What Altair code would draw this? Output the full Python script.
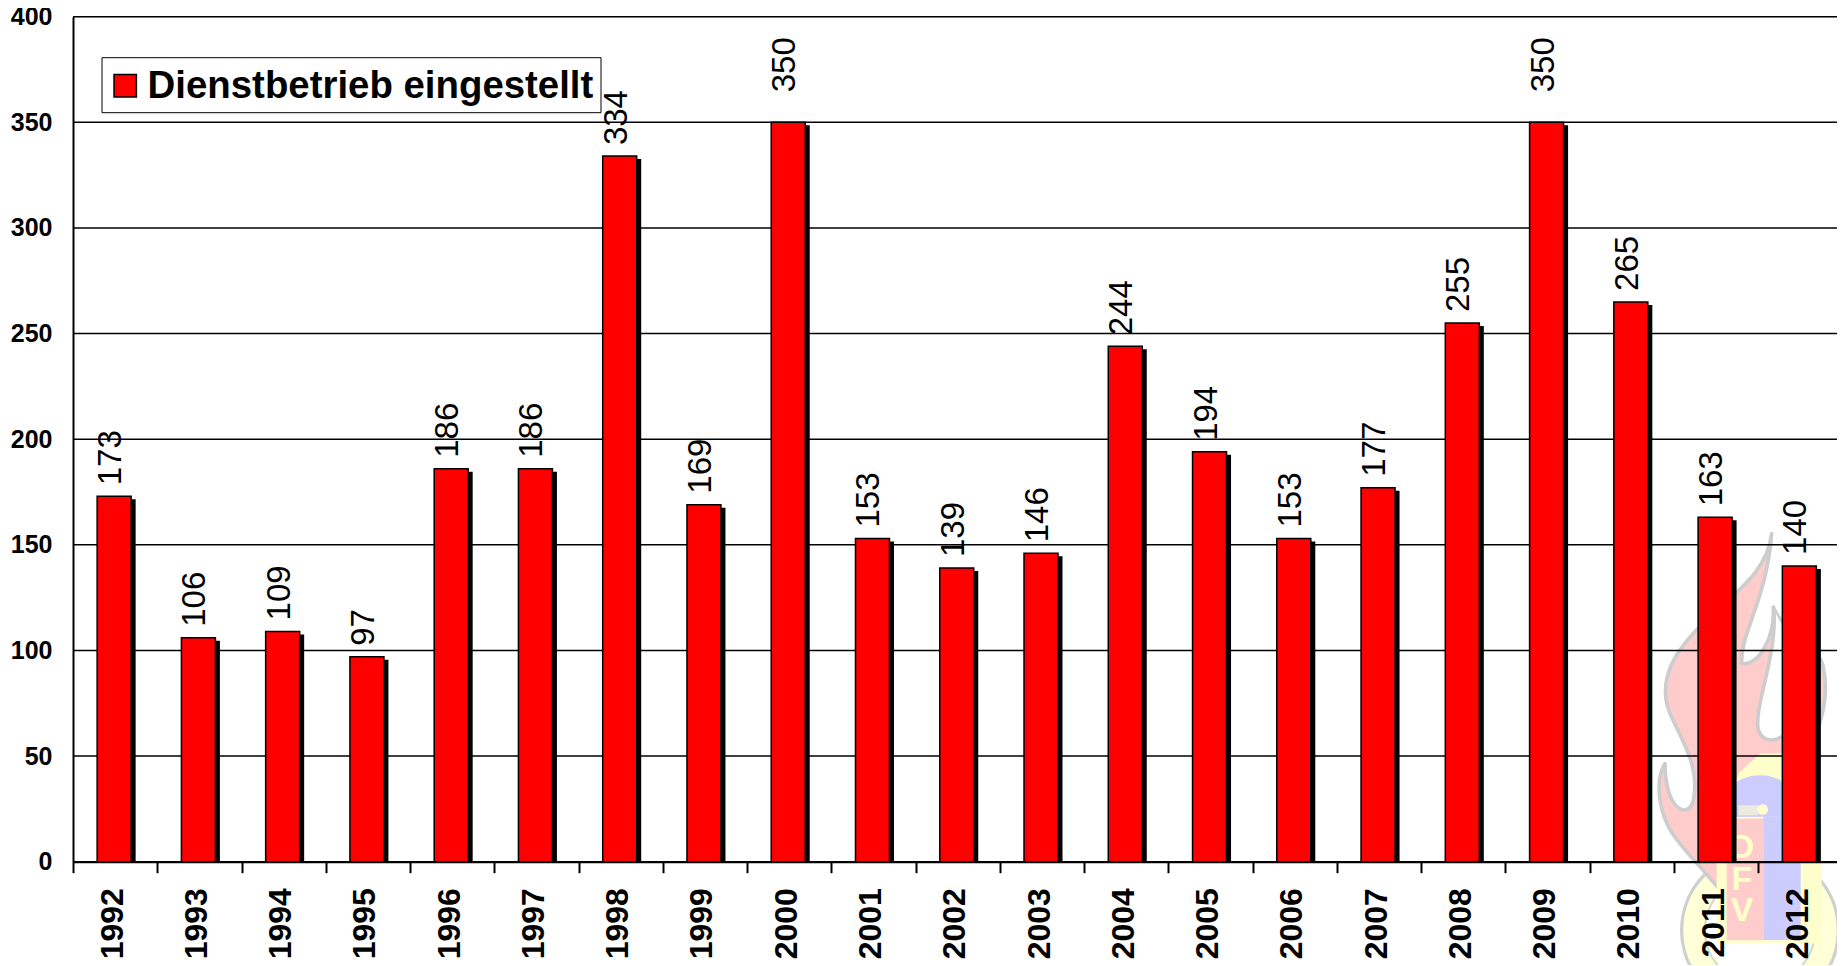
import base64
import altair as alt
import pandas as pd

years = [str(y) for y in range(1992, 2013)]
values = [173, 106, 109, 97, 186, 186, 334, 169, 350, 153, 139, 146, 244, 194, 153, 177, 255, 350, 265, 163, 140]
label_heights = [173, 106, 109, 97, 186, 186, 334, 169, 359, 153, 139, 146, 244, 194, 153, 177, 255, 359, 265, 163, 140]
y_ticks = [0, 50, 100, 150, 200, 250, 300, 350, 400]
series = "Dienstbetrieb eingestellt"
logo_letters = ["D", "F", "V"]
logo_letter_px = [848, 880, 911]

FONT = "Liberation Sans"
PLOT_W, PLOT_H = 1764, 845
BAND_RANGE = [0, 1769.5]

logo_svg = """<svg xmlns="http://www.w3.org/2000/svg" viewBox="0 0 735 1398" width="245" height="466">
<circle cx="480" cy="1290" r="235" fill="#ffffd8" stroke="#d0d0d0" stroke-width="10"/>
<circle cx="480" cy="1290" r="165" fill="#fff" stroke="#d8d8c0" stroke-width="6"/>
<path d="M515,100 C505,200 430,260 330,350 C220,450 170,540 210,640 C250,730 300,800 280,900 C265,960 195,930 195,790 C165,840 170,950 240,1030 C280,1080 320,1120 360,1170 L600,1040 L600,800 C660,700 690,600 670,500 C650,420 560,420 520,320 C525,420 470,500 425,490 C420,400 500,300 515,100 Z" fill="#ffcccc" stroke="#cdcdcd" stroke-width="11" stroke-linejoin="round"/>
<path d="M522,330 C530,480 460,620 475,690 C490,730 530,725 560,700 L610,600 L560,400 Z" fill="#fff" stroke="none"/>
<path d="M522,330 C530,480 460,620 475,690 C490,730 530,725 560,700" fill="none" stroke="#cdcdcd" stroke-width="11"/>
<path d="M480,760 L545,760 L600,820 L600,1090 L350,1090 L415,820 Z" fill="#ffffcc"/>
<circle cx="480" cy="960" r="135" fill="#ccccff"/>
<rect x="350" y="950" width="315" height="380" fill="#ffffcc"/>
<rect x="380" y="955" width="110" height="365" fill="#ffcccc"/>
<rect x="490" y="950" width="112" height="370" fill="#ccccff"/>
<rect x="415" y="915" width="60" height="30" fill="#ffffcc" opacity="0.6"/>
<circle cx="488" cy="928" r="16" fill="#ffffcc"/>
</svg>"""
logo_url = "data:image/svg+xml;base64," + base64.b64encode(logo_svg.encode()).decode()

df = pd.DataFrame({"year": years, "value": values, "height": label_heights, "series": series})
rules = pd.DataFrame({"tick": y_ticks})

x = alt.X(
    "year:N",
    title=None,
    sort=years,
    scale=alt.Scale(paddingInner=0, paddingOuter=0, round=False, range=BAND_RANGE),
    axis=alt.Axis(
        labelAngle=270,
        labelFont=FONT,
        labelFontSize=32,
        labelFontWeight="bold",
        labelColor="black",
        labelPadding=15,
        labelOffset=-3,
        tickBand="extent",
        tickSize=11,
        tickWidth=2,
        tickColor="black",
        domainColor="black",
        domainWidth=2,
        grid=False,
        zindex=1,
    ),
)
y_scale = alt.Scale(domain=[0, 400], nice=False)
y_axis = alt.Axis(
    values=y_ticks,
    labelFont=FONT,
    labelFontSize=25,
    labelFontWeight="bold",
    labelColor="black",
    labelPadding=21,
    tickSize=0,
    domainColor="black",
    domainWidth=2,
    grid=False,
    zindex=1,
)
y = alt.Y("value:Q", title=None, scale=y_scale, axis=y_axis)

logo = (
    alt.Chart(pd.DataFrame({"a": [1]}))
    .mark_image(url=logo_url, width=245, height=466, align="left", baseline="top")
    .encode(x=alt.value(1527), y=alt.value(483.5))
)
logo_texts = [
    alt.Chart(pd.DataFrame({"letter": [letter]}))
    .mark_text(font=FONT, fontSize=34, fontWeight="bold", color="#ffffcc", align="center", baseline="middle")
    .encode(x=alt.value(1669), y=alt.value(py - 16.7), text="letter:N")
    for letter, py in zip(logo_letters, logo_letter_px)
]
grid = (
    alt.Chart(rules)
    .mark_rule(color="black", strokeWidth=1.6)
    .encode(y=alt.Y("tick:Q", title=None, scale=y_scale, axis=y_axis))
)
shadow = (
    alt.Chart(df)
    .mark_bar(size=34, color="black", xOffset=3.5, yOffset=3, clip=True)
    .encode(x=x, y=y)
)
bars = (
    alt.Chart(df)
    .mark_bar(size=34, stroke="black", strokeWidth=1.5, xOffset=-1)
    .encode(
        x=x,
        y=y,
        color=alt.Color(
            "series:N",
            scale=alt.Scale(domain=[series], range=["#ff0000"]),
            legend=alt.Legend(
                title=" ",
                titleFontSize=1,
                titlePadding=5,
                orient="none",
                legendX=28.5,
                legendY=40.5,
                direction="vertical",
                symbolType="square",
                symbolSize=500,
                symbolStrokeColor="black",
                symbolStrokeWidth=1.5,
                symbolOffset=-2.5,
                clipHeight=31,
                labelFont=FONT,
                labelFontSize=38.4,
                labelFontWeight="bold",
                labelColor="black",
                labelLimit=600,
                labelOffset=3.2,
                strokeColor="black",
                fillColor="white",
                padding=7,
            ),
        ),
    )
)
labels = (
    alt.Chart(df)
    .mark_text(font=FONT, fontSize=33, color="black", angle=270, align="left", baseline="middle", dx=11, dy=-4)
    .encode(x=x, y=alt.Y("height:Q", title=None, scale=y_scale, axis=y_axis), text="value:Q")
)

chart = (
    alt.layer(logo, *logo_texts, grid, shadow, bars, labels)
    .resolve_scale(y="shared")
    .properties(
        width=PLOT_W,
        height=PLOT_H,
        autosize=alt.AutoSizeParams(type="none"),
        padding={"left": 65, "top": 8.7, "right": 0, "bottom": 103},
    )
    .configure_view(stroke=None)
    .configure(background="white")
)
chart.save("out.html", embed_options={"renderer": "svg", "actions": False})
